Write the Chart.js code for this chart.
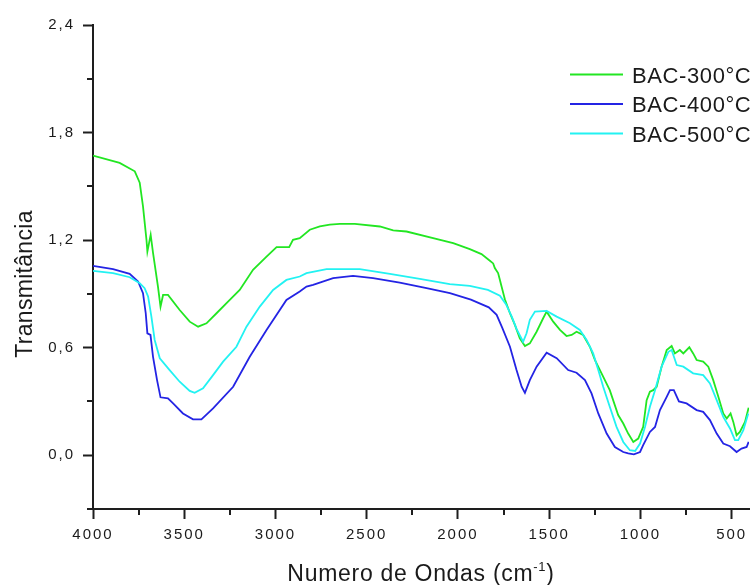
<!DOCTYPE html>
<html>
<head>
<meta charset="utf-8">
<script src="https://cdn.jsdelivr.net/npm/chart.js@4.4.1/dist/chart.umd.min.js"></script>
<style>
  html, body { margin: 0; padding: 0; background: #ffffff; }
  #wrap { width: 755px; height: 585px; position: relative; }
</style>
</head>
<body>
<div id="wrap"><canvas id="c" width="755" height="585"></canvas></div>
<script>
// ---------- data ----------
const seriesLabels = ['BAC-300°C', 'BAC-400°C', 'BAC-500°C'];
const seriesColors = ['#22e622', '#2424e4', '#22f2f2'];

const wn300 = [4000,3854,3771,3744,3726,3707,3702,3684,3671,3644,3630,3616,3589,3525,3470,3424,3378,3323,3260,3196,3123,3049,2994,2925,2904,2867,2812,2757,2702,2647,2565,2428,2355,2282,2136,2026,1935,1871,1825,1807,1798,1780,1770,1761,1743,1725,1715,1688,1661,1633,1606,1569,1533,1514,1478,1441,1405,1377,1350,1314,1277,1249,1213,1168,1122,1094,1067,1039,1012,985,966,948,930,911,884,856,829,811,784,765,732,711,692,656,628,601,573,546,527,506,491,473,455,427,407];
const t300  = [1.671,1.631,1.584,1.520,1.388,1.202,1.136,1.230,1.129,0.941,0.829,0.894,0.894,0.810,0.745,0.717,0.736,0.792,0.857,0.922,1.034,1.108,1.161,1.161,1.202,1.211,1.258,1.276,1.286,1.291,1.291,1.276,1.254,1.248,1.211,1.183,1.150,1.122,1.085,1.070,1.044,1.016,0.978,0.941,0.870,0.820,0.792,0.727,0.652,0.609,0.624,0.689,0.764,0.801,0.745,0.699,0.665,0.671,0.689,0.671,0.605,0.531,0.457,0.363,0.224,0.177,0.121,0.074,0.093,0.158,0.307,0.354,0.363,0.382,0.494,0.587,0.609,0.568,0.587,0.568,0.602,0.568,0.531,0.522,0.494,0.419,0.326,0.233,0.205,0.233,0.186,0.112,0.130,0.186,0.265];

const wn400 = [4000,3890,3799,3753,3726,3711,3702,3685,3671,3649,3630,3589,3561,3507,3452,3406,3342,3232,3141,3049,2940,2867,2830,2794,2684,2575,2465,2319,2172,2044,1929,1831,1788,1757,1715,1679,1651,1633,1606,1569,1514,1459,1396,1350,1304,1268,1231,1185,1140,1094,1067,1036,1002,985,948,920,893,856,838,817,789,747,692,656,619,582,546,509,473,446,418,407];
const t400  = [1.056,1.038,1.012,0.969,0.904,0.792,0.680,0.671,0.549,0.419,0.323,0.317,0.289,0.233,0.200,0.200,0.261,0.382,0.549,0.699,0.866,0.913,0.941,0.950,0.988,1.001,0.988,0.963,0.932,0.904,0.868,0.825,0.783,0.710,0.605,0.475,0.382,0.348,0.419,0.494,0.572,0.541,0.475,0.460,0.419,0.345,0.233,0.121,0.046,0.018,0.010,0.005,0.018,0.056,0.130,0.158,0.252,0.326,0.363,0.363,0.300,0.289,0.252,0.242,0.196,0.121,0.065,0.050,0.018,0.037,0.046,0.074];

const wn500 = [4000,3890,3799,3744,3717,3698,3680,3662,3634,3580,3525,3470,3443,3397,3342,3287,3214,3159,3086,3013,2940,2867,2830,2720,2538,2373,2209,2045,1935,1836,1770,1737,1705,1679,1643,1624,1606,1578,1514,1459,1386,1332,1295,1259,1231,1204,1168,1131,1094,1058,1029,1002,975,948,920,884,847,829,801,765,711,656,619,582,546,509,482,464,436,409];
const t500  = [1.028,1.016,0.993,0.960,0.932,0.885,0.773,0.643,0.541,0.475,0.410,0.359,0.348,0.373,0.447,0.522,0.605,0.717,0.829,0.922,0.978,0.997,1.016,1.038,1.038,1.012,0.984,0.954,0.945,0.922,0.890,0.843,0.773,0.705,0.633,0.680,0.755,0.801,0.805,0.773,0.736,0.699,0.643,0.568,0.475,0.382,0.270,0.158,0.074,0.028,0.024,0.065,0.158,0.270,0.363,0.494,0.577,0.587,0.503,0.494,0.457,0.447,0.401,0.307,0.214,0.149,0.084,0.084,0.140,0.233];

const xMajorTicks = [4000, 3500, 3000, 2500, 2000, 1500, 1000, 500];
const xMinorTicks = [3750, 3250, 2750, 2250, 1750, 1250, 750];
const yMajorTicks = [0, 0.6, 1.2, 1.8, 2.4];
const yMinorTicks = [-0.3, 0.3, 0.9, 1.5, 2.1];
const xTitleMain = 'Numero de Ondas (cm';
const xTitleSup = '-1';
const xTitleEnd = ')';
const yTitle = 'Transmitância';

// ---------- styling ----------
const FONT = "'Liberation Sans', Arial, Helvetica, sans-serif";
const AXIS_COLOR = '#1e1e1e';
const TEXT_COLOR = '#1a1a1a';

const toPoints = (xs, ys) => xs.map((x, i) => ({ x: x, y: ys[i] }));
const allX = [wn300, wn400, wn500];
const allY = [t300, t400, t500];
const drawOrder = [2, 1, 0]; // cyan drawn on top

const datasets = seriesLabels.map((lab, i) => ({
  label: lab,
  data: toPoints(allX[i], allY[i]),
  borderColor: seriesColors[i],
  backgroundColor: seriesColors[i],
  borderWidth: 1.8,
  pointRadius: 0,
  tension: 0,
  fill: false,
  order: drawOrder[i]
}));

const decoPlugin = {
  id: 'deco',
  beforeDraw(chart) {
    chart.ctx.letterSpacing = '2px';
  },
  afterDraw(chart) {
    const ctx = chart.ctx;
    const a = chart.chartArea;
    const xs = chart.scales.x, ys = chart.scales.y;
    ctx.save();
    // minor ticks
    ctx.strokeStyle = AXIS_COLOR;
    ctx.lineWidth = 2;
    ctx.beginPath();
    xMinorTicks.forEach(v => {
      const px = Math.round(xs.getPixelForValue(v));
      ctx.moveTo(px, a.bottom); ctx.lineTo(px, a.bottom + 6);
    });
    yMinorTicks.forEach(v => {
      const py = Math.round(ys.getPixelForValue(v));
      ctx.moveTo(a.left - 6, py); ctx.lineTo(a.left, py);
    });
    ctx.stroke();

    // legend
    ctx.font = '22px ' + FONT;
    ctx.letterSpacing = '0.6px';
    ctx.textAlign = 'left';
    ctx.textBaseline = 'alphabetic';
    chart.data.datasets.forEach((ds, i) => {
      const ly = 74.5 + i * 29.5;
      ctx.strokeStyle = ds.borderColor;
      ctx.lineWidth = 2;
      ctx.beginPath();
      ctx.moveTo(570, ly); ctx.lineTo(623, ly);
      ctx.stroke();
      ctx.fillStyle = TEXT_COLOR;
      ctx.fillText(ds.label, 632, ly + 8);
    });

    // y title
    ctx.save();
    ctx.translate(32, 284);
    ctx.rotate(-Math.PI / 2);
    ctx.font = '23px ' + FONT;
    ctx.letterSpacing = '0.3px';
    ctx.textAlign = 'center';
    ctx.fillStyle = TEXT_COLOR;
    ctx.fillText(yTitle, 0, 0);
    ctx.restore();

    // x title with superscript
    ctx.letterSpacing = '0.7px';
    ctx.textAlign = 'left';
    ctx.fillStyle = TEXT_COLOR;
    const mainFont = '23px ' + FONT, supFont = '13px ' + FONT;
    ctx.font = mainFont; const w1 = ctx.measureText(xTitleMain).width;
    const w3 = ctx.measureText(xTitleEnd).width;
    ctx.font = supFont; const w2 = ctx.measureText(xTitleSup).width;
    const cx = (a.left + a.right) / 2;
    let tx = cx - (w1 + w2 + w3) / 2;
    const base = 581;
    ctx.font = mainFont; ctx.fillText(xTitleMain, tx, base); tx += w1;
    ctx.font = supFont; ctx.fillText(xTitleSup, tx, base - 10); tx += w2;
    ctx.font = mainFont; ctx.fillText(xTitleEnd, tx, base);
    ctx.restore();
  }
};

new Chart(document.getElementById('c'), {
  type: 'line',
  data: { datasets: datasets },
  options: {
    responsive: false,
    animation: false,
    devicePixelRatio: 1,
    layout: { padding: { top: 25, right: 6, left: 0, bottom: 0 } },
    plugins: { legend: { display: false }, tooltip: { enabled: false } },
    scales: {
      x: {
        type: 'linear',
        reverse: true,
        min: 405,
        max: 4000,
        afterBuildTicks: s => { s.ticks = xMajorTicks.map(v => ({ value: v })); },
        afterFit: s => { s.height = 76; },
        ticks: {
          autoSkip: false, maxRotation: 0, minRotation: 0,
          padding: 7,
          color: TEXT_COLOR,
          font: { family: FONT, size: 15 },
          callback: v => String(v)
        },
        grid: { display: true, drawOnChartArea: false, drawTicks: true, tickLength: 10, tickWidth: 2, tickColor: AXIS_COLOR },
        border: { display: true, color: AXIS_COLOR, width: 2 }
      },
      y: {
        type: 'linear',
        min: -0.3,
        max: 2.4,
        afterBuildTicks: s => { s.ticks = yMajorTicks.map(v => ({ value: v })); },
        afterFit: s => { s.width = 93; },
        ticks: {
          padding: 8,
          color: TEXT_COLOR,
          font: { family: FONT, size: 15 },
          callback: v => Number(v).toFixed(1).replace('.', ',')
        },
        grid: { display: true, drawOnChartArea: false, drawTicks: true, tickLength: 10, tickWidth: 2, tickColor: AXIS_COLOR },
        border: { display: true, color: AXIS_COLOR, width: 2 }
      }
    }
  },
  plugins: [decoPlugin]
});
</script>
</body>
</html>
